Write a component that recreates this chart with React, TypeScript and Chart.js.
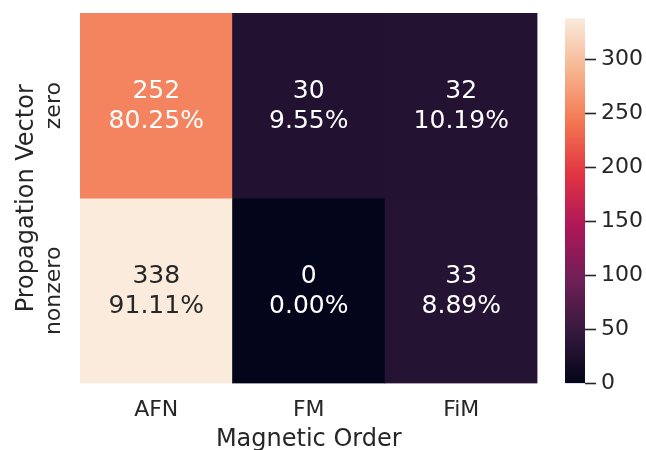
import React, { useEffect, useRef } from "react";
import { Chart, registerables } from "chart.js";

Chart.register(...registerables);

// ---- data ----
const magneticOrders = ["AFN", "FM", "FiM"];
const propagationVectors = ["zero", "nonzero"];
const zeroCounts = [252, 30, 32];
const nonzeroCounts = [338, 0, 33];
const colorbarTicks = [0, 50, 100, 150, 200, 250, 300];
const vmin = 0;
const vmax = 338;

const rows = [zeroCounts, nonzeroCounts];

// seaborn "rocket" colormap stops
const rocketStops: [number, string][] = [
  [0, "#03051a"],
  [1 / 7, "#35193e"],
  [2 / 7, "#701f57"],
  [3 / 7, "#ad1759"],
  [4 / 7, "#e13342"],
  [5 / 7, "#f37651"],
  [6 / 7, "#f6b48f"],
  [1, "#faebdd"],
];

const FONT = "'DejaVu Sans', 'Liberation Sans', sans-serif";
const TEXT = "#262626";

function hexToRgb(h: string): number[] {
  const n = parseInt(h.slice(1), 16);
  return [(n >> 16) & 255, (n >> 8) & 255, n & 255];
}

function rocketRgb(t: number): number[] {
  const v = Math.max(0, Math.min(1, t));
  for (let i = 0; i < rocketStops.length - 1; i++) {
    const [p0, c0] = rocketStops[i];
    const [p1, c1] = rocketStops[i + 1];
    if (v <= p1) {
      const f = (v - p0) / (p1 - p0);
      const a = hexToRgb(c0);
      const b = hexToRgb(c1);
      return a.map((x, k) => Math.round(x + (b[k] - x) * f));
    }
  }
  return hexToRgb(rocketStops[rocketStops.length - 1][1]);
}

function rocket(t: number): string {
  const [r, g, b] = rocketRgb(t);
  return `rgb(${r},${g},${b})`;
}

function textColorFor(value: number): string {
  const rgb = rocketRgb((value - vmin) / (vmax - vmin)).map((c) => {
    const s = c / 255;
    return s <= 0.03928 ? s / 12.92 : Math.pow((s + 0.055) / 1.055, 2.4);
  });
  const lum = 0.2126 * rgb[0] + 0.7152 * rgb[1] + 0.0722 * rgb[2];
  return lum > 0.408 ? TEXT : "#ffffff";
}

const heatmapLabels = {
  id: "heatmapLabels",
  afterDatasetsDraw(chart: any) {
    const { ctx } = chart;
    const xs = chart.scales.x;
    const ys = chart.scales.y;
    // y tick labels (rotated)
    ctx.save();
    ctx.font = `22px ${FONT}`;
    ctx.fillStyle = TEXT;
    ctx.textAlign = "center";
    ctx.textBaseline = "middle";
    propagationVectors.forEach((lab, r) => {
      const cy = ys.getPixelForValue(r + 0.5);
      ctx.save();
      ctx.translate(ys.right - 26, cy);
      ctx.rotate(-Math.PI / 2);
      ctx.fillText(lab, 0, 0);
      ctx.restore();
    });
    ctx.restore();

    // annotations
    ctx.save();
    ctx.font = `25px ${FONT}`;
    ctx.textAlign = "center";
    ctx.textBaseline = "alphabetic";
    rows.forEach((counts, r) => {
      const total = counts.reduce((a, b) => a + b, 0);
      const cy = ys.getPixelForValue(r + 0.5);
      counts.forEach((c, i) => {
        const cx = xs.getPixelForValue(i);
        ctx.fillStyle = textColorFor(c);
        ctx.fillText(String(c), cx, cy - 7.8);
        ctx.fillText(((c / total) * 100).toFixed(2) + "%", cx, cy + 22.2);
      });
    });
    ctx.restore();
  },
};

export default function App() {
  const heatRef = useRef<HTMLCanvasElement | null>(null);
  const barRef = useRef<HTMLCanvasElement | null>(null);

  useEffect(() => {
    if (!heatRef.current || !barRef.current) return;

    const heat = new Chart(heatRef.current, {
      type: "bar",
      data: {
        labels: magneticOrders,
        datasets: rows.map((counts, r) => ({
          label: propagationVectors[r],
          data: counts.map(() => 1),
          backgroundColor: counts.map((c) => rocket((c - vmin) / (vmax - vmin))),
          borderWidth: 0,
          barPercentage: 1,
          categoryPercentage: 1,
        })),
      },
      options: {
        animation: false,
        responsive: false,
        events: [],
        layout: { padding: { left: 4, top: 13, right: 108.5, bottom: 15.9 } },
        plugins: { legend: { display: false }, tooltip: { enabled: false } },
        scales: {
          x: {
            stacked: true,
            grid: { display: false, drawTicks: false },
            border: { display: false },
            ticks: { font: { family: FONT, size: 22 }, color: TEXT, padding: 14 },
            title: {
              display: true,
              text: "Magnetic Order",
              font: { family: FONT, size: 24 },
              color: TEXT,
              padding: { top: 0, bottom: 0 },
            },
            afterFit: (s: any) => {
              s.height = 70.6;
            },
          },
          y: {
            stacked: true,
            min: 0,
            max: 2,
            reverse: true,
            grid: { display: false, drawTicks: false },
            border: { display: false },
            ticks: { display: false },
            title: {
              display: true,
              text: "Propagation Vector",
              font: { family: FONT, size: 24 },
              color: TEXT,
              padding: { top: 8.8, bottom: 0 },
            },
            afterFit: (s: any) => {
              s.width = 76;
            },
          },
        },
      },
      plugins: [heatmapLabels],
    } as any);

    const bar = new Chart(barRef.current, {
      type: "bar",
      data: {
        labels: [""],
        datasets: [
          {
            data: [vmax],
            backgroundColor: (ctx: any) => {
              const chart = ctx.chart;
              const y = chart.scales && chart.scales.y;
              if (!chart.chartArea || !y) return rocket(1);
              const p0 = y.getPixelForValue(vmin);
              const p1 = y.getPixelForValue(vmax);
              if (!isFinite(p0) || !isFinite(p1) || p0 === p1) return rocket(1);
              const g = chart.ctx.createLinearGradient(0, p0, 0, p1);
              rocketStops.forEach(([p, c]) => g.addColorStop(p, c));
              return g;
            },
            borderWidth: 0,
            barPercentage: 1,
            categoryPercentage: 1,
          },
        ],
      },
      options: {
        animation: false,
        responsive: false,
        events: [],
        layout: { padding: { left: 565, top: 13, right: 0, bottom: 86.5 } },
        plugins: { legend: { display: false }, tooltip: { enabled: false } },
        scales: {
          x: { display: false },
          y: {
            position: "right",
            min: vmin,
            max: vmax,
            afterBuildTicks: (s: any) => {
              s.ticks = colorbarTicks.map((v) => ({ value: v }));
            },
            afterFit: (s: any) => {
              s.width = 61;
            },
            ticks: { font: { family: FONT, size: 22 }, color: TEXT, padding: 5 },
            grid: {
              display: true,
              drawOnChartArea: false,
              drawTicks: true,
              tickLength: 11,
              tickColor: TEXT,
              tickWidth: 1.6,
            },
            border: { display: false },
          },
        },
      },
    } as any);

    return () => {
      heat.destroy();
      bar.destroy();
    };
  }, []);

  return (
    <div
      style={{
        position: "fixed",
        left: 0,
        top: 0,
        width: 646,
        height: 450,
        overflow: "hidden",
        background: "#ffffff",
      }}
    >
      <canvas
        ref={heatRef}
        width={646}
        height={470}
        style={{ position: "absolute", left: 0, top: 0, width: 646, height: 470 }}
      />
      <canvas
        ref={barRef}
        width={646}
        height={470}
        style={{ position: "absolute", left: 0, top: 0, width: 646, height: 470, pointerEvents: "none" }}
      />
    </div>
  );
}
